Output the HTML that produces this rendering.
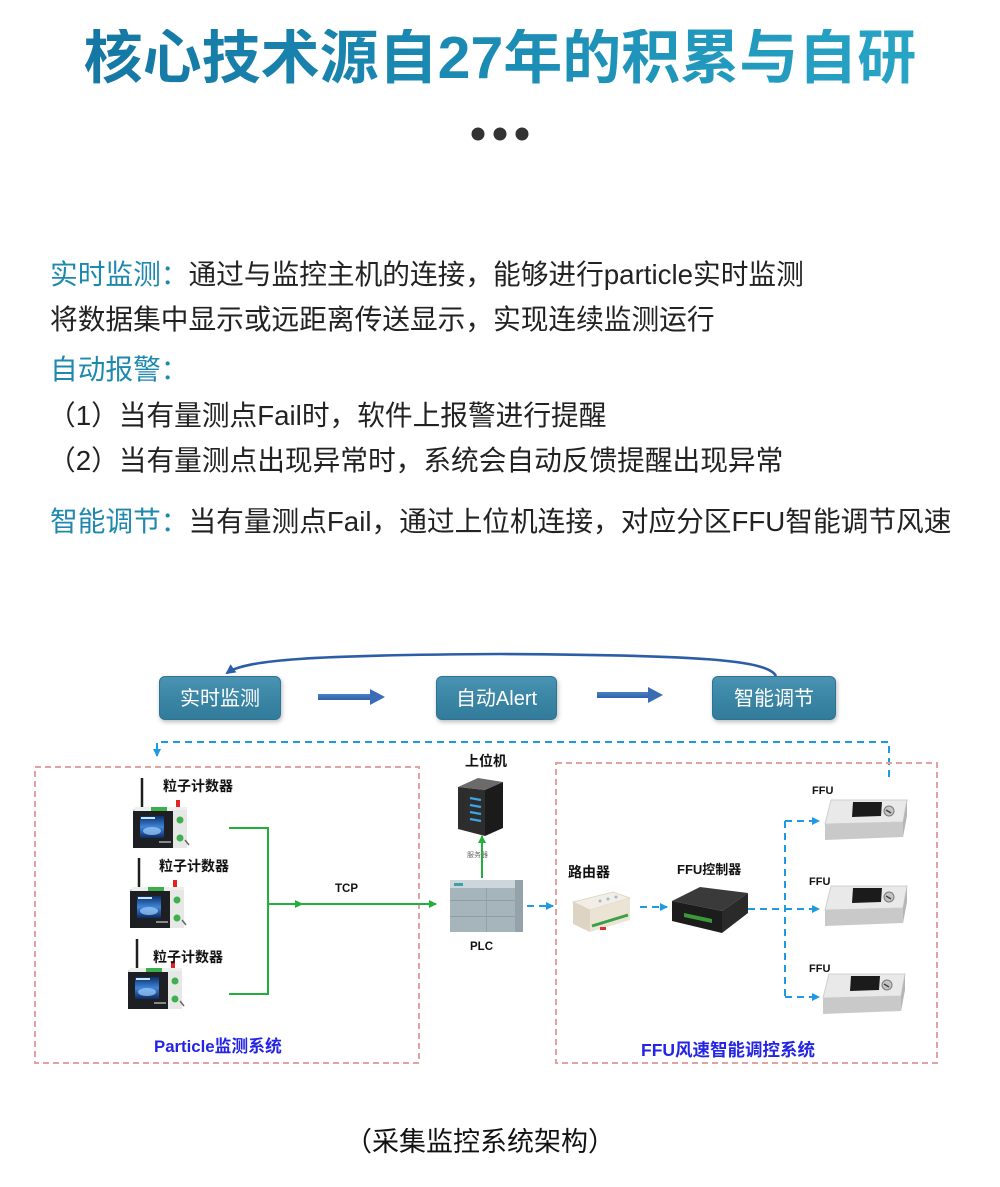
<!DOCTYPE html>
<html>
<head>
<meta charset="utf-8">
<style>
  html,body{margin:0;padding:0;background:#fff;}
  #pg{position:relative;width:1000px;height:1187px;overflow:hidden;background:#fff;}
  .title{position:absolute;left:0;top:29px;width:1000px;text-align:center;
    font-family:"Liberation Sans","Noto Sans CJK SC",sans-serif;font-weight:bold;
    font-size:59px;line-height:59px;white-space:nowrap;
    background:linear-gradient(90deg,#1373a0 0%,#1c8cb4 50%,#2aa9c9 100%);
    -webkit-background-clip:text;background-clip:text;color:transparent;}
  .t{position:absolute;left:50px;font-family:"Liberation Sans","Noto Sans CJK SC",sans-serif;
    font-size:27.7px;line-height:27.7px;color:#222;white-space:nowrap;font-weight:400;}
  .c{color:#1f88ae;}
  .box{position:absolute;top:676px;height:44px;border-radius:6px;
    background:linear-gradient(180deg,#4a93b2 0%,#3a84a4 55%,#327b9b 100%);
    border:1px solid #2d7393;box-shadow:1px 2px 5px rgba(0,0,0,0.28);
    color:#fff;font-family:"Liberation Sans","Noto Sans CJK SC",sans-serif;font-size:20px;
    line-height:44px;text-align:center;white-space:nowrap;box-sizing:border-box;}
  .cap{position:absolute;left:345px;top:1129px;font-family:"Liberation Sans","Noto Sans CJK SC",sans-serif;
    font-size:27px;line-height:27px;color:#111;white-space:nowrap;}
  svg text{font-family:"Liberation Sans","Noto Sans CJK SC",sans-serif;}
</style>
</head>
<body>
<div id="pg">
  <div class="title">核心技术源自27年的积累与自研</div>

  <div class="t" style="top:261px"><span class="c">实时监测：</span>通过与监控主机的连接，能够进行particle实时监测</div>
  <div class="t" style="top:306px">将数据集中显示或远距离传送显示，实现连续监测运行</div>
  <div class="t" style="top:356px"><span class="c">自动报警：</span></div>
  <div class="t" style="top:402px;left:48px">（1）当有量测点Fail时，软件上报警进行提醒</div>
  <div class="t" style="top:447px;left:48px">（2）当有量测点出现异常时，系统会自动反馈提醒出现异常</div>
  <div class="t" style="top:508px"><span class="c">智能调节：</span>当有量测点Fail，通过上位机连接，对应分区FFU智能调节风速</div>

  <svg width="1000" height="1187" style="position:absolute;left:0;top:0" xmlns="http://www.w3.org/2000/svg">
    <defs>
      <marker id="mArc" markerWidth="10" markerHeight="10" refX="8" refY="5" orient="auto" markerUnits="userSpaceOnUse">
        <path d="M0,0 L10,5 L0,10 z" fill="#2c5ea8"/>
      </marker>
      <marker id="mG" markerWidth="8" markerHeight="8" refX="7" refY="4" orient="auto" markerUnits="userSpaceOnUse">
        <path d="M0,0 L8,4 L0,8 z" fill="#22b03c"/>
      </marker>
      <marker id="mB" markerWidth="8" markerHeight="8" refX="7" refY="4" orient="auto" markerUnits="userSpaceOnUse">
        <path d="M0,0 L8,4 L0,8 z" fill="#1e9be0"/>
      </marker>
      <linearGradient id="scr" x1="0" y1="0" x2="0" y2="1">
        <stop offset="0" stop-color="#0c2f6a"/>
        <stop offset="0.5" stop-color="#3f86d8"/>
        <stop offset="1" stop-color="#0b2a62"/>
      </linearGradient>
      <linearGradient id="arw" x1="0" y1="0" x2="0" y2="1">
        <stop offset="0" stop-color="#4a80c6"/>
        <stop offset="1" stop-color="#2f62aa"/>
      </linearGradient>
      <g id="pc">
        <line x1="9" y1="-29" x2="9" y2="2" stroke="#1e1e1e" stroke-width="2.5"/>
        <rect x="0" y="2" width="54" height="39" fill="#d8dbd8"/>
        <rect x="2" y="0" width="52" height="5" fill="#eef0ee"/>
        <rect x="18" y="0" width="16" height="4" fill="#3cae4a"/>
        <rect x="43" y="-7" width="4" height="7" fill="#e02424"/>
        <rect x="0" y="4" width="40" height="37" fill="#1d1f22"/>
        <rect x="7" y="9" width="24" height="22" fill="url(#scr)"/>
        <ellipse cx="19" cy="24" rx="9" ry="4" fill="#9fd0ff" opacity="0.7"/>
        <rect x="8" y="10" width="14" height="2" fill="#cfe4ff"/>
        <rect x="26" y="34" width="12" height="2" fill="#888"/>
        <rect x="40" y="3" width="14" height="38" fill="#e6e8e6"/>
        <circle cx="47" cy="13" r="3.5" fill="#3faf4f"/>
        <circle cx="47" cy="31" r="3.5" fill="#3faf4f"/>
        <line x1="52" y1="33" x2="56" y2="38" stroke="#666" stroke-width="1.5"/>
      </g>
      <g id="ffu">
        <polygon points="6,0 82,0 78,22 0,24" fill="#e9e9e9" stroke="#cfcfcf" stroke-width="1"/>
        <polygon points="0,24 78,22 78,37 0,40" fill="#c9c9c9"/>
        <polygon points="78,22 82,0 82,16 78,37" fill="#b5b5b5"/>
        <polygon points="28,2 57,2 56,16 27,17" fill="#1b1b1b"/>
        <circle cx="64" cy="11" r="5" fill="#c4c4c4" stroke="#7a7a7a" stroke-width="1"/>
        <line x1="61" y1="10" x2="66" y2="13" stroke="#444" stroke-width="1.5"/>
      </g>
    </defs>

    <!-- dots -->
    <circle cx="478" cy="134" r="6.5" fill="#333"/>
    <circle cx="500" cy="134" r="6.5" fill="#333"/>
    <circle cx="522" cy="134" r="6.5" fill="#333"/>

    <!-- top arc -->
    <path d="M776,676 C768,660 700,655 500,654 C310,655 245,660 227,673" fill="none" stroke="#2c5ea8" stroke-width="2.6" marker-end="url(#mArc)"/>

    <!-- big arrows -->
    <rect x="318" y="694" width="54" height="6" fill="url(#arw)"/>
    <polygon points="370,689 385,697 370,705" fill="#3a6db5"/>
    <rect x="597" y="692" width="53" height="6" fill="url(#arw)"/>
    <polygon points="648,687 663,695 648,703" fill="#3a6db5"/>

    <!-- top dashed feedback -->
    <path d="M889,777 V742 H157 V756" fill="none" stroke="#1e9be0" stroke-width="2" stroke-dasharray="7,5" marker-end="url(#mB)"/>

    <!-- red dashed boxes -->
    <rect x="35" y="767" width="384" height="296" fill="none" stroke="#e3a2a2" stroke-width="2" stroke-dasharray="6,4"/>
    <rect x="556" y="763" width="381" height="300" fill="none" stroke="#e3a2a2" stroke-width="2" stroke-dasharray="6,4"/>

    <!-- particle counters -->
    <use href="#pc" x="133" y="807"/>
    <use href="#pc" x="130" y="887"/>
    <use href="#pc" x="128" y="968"/>
    <text x="163" y="791" font-size="14" font-weight="bold" fill="#111">粒子计数器</text>
    <text x="159" y="871" font-size="14" font-weight="bold" fill="#111">粒子计数器</text>
    <text x="153" y="962" font-size="14" font-weight="bold" fill="#111">粒子计数器</text>

    <!-- green TCP lines -->
    <path d="M229,828 H268 V994 H229" fill="none" stroke="#22b03c" stroke-width="2"/>
    <line x1="268" y1="904" x2="302" y2="904" stroke="#22b03c" stroke-width="2" marker-end="url(#mG)"/>
    <line x1="300" y1="904" x2="436" y2="904" stroke="#22b03c" stroke-width="2" marker-end="url(#mG)"/>
    <text x="335" y="892" font-size="11.5" font-weight="bold" fill="#111">TCP</text>
    <text x="154" y="1052" font-size="16.8" font-weight="bold" fill="#2424e6">Particle监测系统</text>

    <!-- server -->
    <text x="465" y="766" font-size="14" font-weight="bold" fill="#111">上位机</text>
    <polygon points="458,787 478,778 503,782 485,790" fill="#6b6b6b"/>
    <polygon points="458,787 485,790 485,836 458,829" fill="#2d2d2d"/>
    <polygon points="485,790 503,782 503,828 485,836" fill="#1b1b1b"/>
    <line x1="470" y1="798" x2="481" y2="800" stroke="#3aa6e6" stroke-width="2.2"/>
    <line x1="470" y1="805" x2="481" y2="807" stroke="#3aa6e6" stroke-width="2.2"/>
    <line x1="470" y1="812" x2="481" y2="814" stroke="#3aa6e6" stroke-width="2.2"/>
    <line x1="470" y1="819" x2="481" y2="821" stroke="#3aa6e6" stroke-width="2.2"/>
    <text x="467" y="857" font-size="7" fill="#666">服务器</text>
    <line x1="482" y1="878" x2="482" y2="836" stroke="#22b03c" stroke-width="2" marker-end="url(#mG)"/>

    <!-- PLC -->
    <rect x="450" y="880" width="73" height="52" fill="#a6b4bb"/>
    <rect x="450" y="880" width="73" height="8" fill="#cdd6da"/>
    <rect x="454" y="883" width="9" height="3" fill="#3aa3a8"/>
    <rect x="450" y="900" width="73" height="1" fill="#8e9ca3"/>
    <rect x="450" y="916" width="73" height="1" fill="#8e9ca3"/>
    <rect x="486" y="888" width="1" height="44" fill="#93a1a8"/>
    <rect x="515" y="880" width="8" height="52" fill="#94a3aa"/>
    <text x="470" y="950" font-size="11.5" font-weight="bold" fill="#111">PLC</text>

    <!-- PLC -> router -->
    <line x1="527" y1="906" x2="553" y2="906" stroke="#1e9be0" stroke-width="2" stroke-dasharray="7,5" marker-end="url(#mB)"/>

    <!-- router -->
    <text x="568" y="877" font-size="14" font-weight="bold" fill="#111">路由器</text>
    <polygon points="573,902 613,892 630,898 590,910" fill="#f3eee5" stroke="#d8d0c0" stroke-width="0.8"/>
    <polygon points="573,902 590,910 590,932 573,924" fill="#ddd4c3"/>
    <polygon points="590,910 630,898 630,920 590,932" fill="#ebe3d3"/>
    <line x1="592" y1="926" x2="628" y2="915" stroke="#38a048" stroke-width="3"/>
    <rect x="600" y="927" width="6" height="3" fill="#e03030"/>
    <circle cx="600" cy="901" r="1.5" fill="#a0b8d8"/>
    <circle cx="608" cy="899" r="1.5" fill="#a0b8d8"/>
    <circle cx="616" cy="897" r="1.5" fill="#a0b8d8"/>

    <!-- router -> controller -->
    <line x1="640" y1="907" x2="667" y2="907" stroke="#1e9be0" stroke-width="2" stroke-dasharray="7,5" marker-end="url(#mB)"/>

    <!-- FFU controller -->
    <text x="677" y="874" font-size="13" font-weight="bold" fill="#111">FFU控制器</text>
    <polygon points="672,901 700,887 748,893 722,911" fill="#3a3a3a"/>
    <polygon points="672,901 722,911 722,933 672,921" fill="#1c1c1c"/>
    <polygon points="722,911 748,893 748,913 722,933" fill="#2a2a2a"/>
    <polygon points="684,913 712,919 712,923 684,917" fill="#3a9a3a"/>

    <!-- controller -> FFUs -->
    <path d="M748,909 H785" fill="none" stroke="#1e9be0" stroke-width="2" stroke-dasharray="7,5"/>
    <path d="M785,821 V997" fill="none" stroke="#1e9be0" stroke-width="2" stroke-dasharray="7,5"/>
    <line x1="785" y1="821" x2="819" y2="821" stroke="#1e9be0" stroke-width="2" stroke-dasharray="7,5" marker-end="url(#mB)"/>
    <line x1="785" y1="909" x2="819" y2="909" stroke="#1e9be0" stroke-width="2" stroke-dasharray="7,5" marker-end="url(#mB)"/>
    <line x1="785" y1="997" x2="819" y2="997" stroke="#1e9be0" stroke-width="2" stroke-dasharray="7,5" marker-end="url(#mB)"/>

    <!-- FFUs -->
    <text x="812" y="794" font-size="11" font-weight="bold" fill="#111">FFU</text>
    <text x="809" y="885" font-size="11" font-weight="bold" fill="#111">FFU</text>
    <text x="809" y="972" font-size="11" font-weight="bold" fill="#111">FFU</text>
    <use href="#ffu" x="825" y="800"/>
    <use href="#ffu" x="825" y="886"/>
    <use href="#ffu" x="823" y="974"/>

    <text x="641" y="1056" font-size="17.5" font-weight="bold" fill="#2424e6">FFU风速智能调控系统</text>
  </svg>

  <div class="box" style="left:159px;width:122px;">实时监测</div>
  <div class="box" style="left:436px;width:121px;">自动Alert</div>
  <div class="box" style="left:712px;width:124px;">智能调节</div>

  <div class="cap">（采集监控系统架构）</div>
</div>
</body>
</html>
